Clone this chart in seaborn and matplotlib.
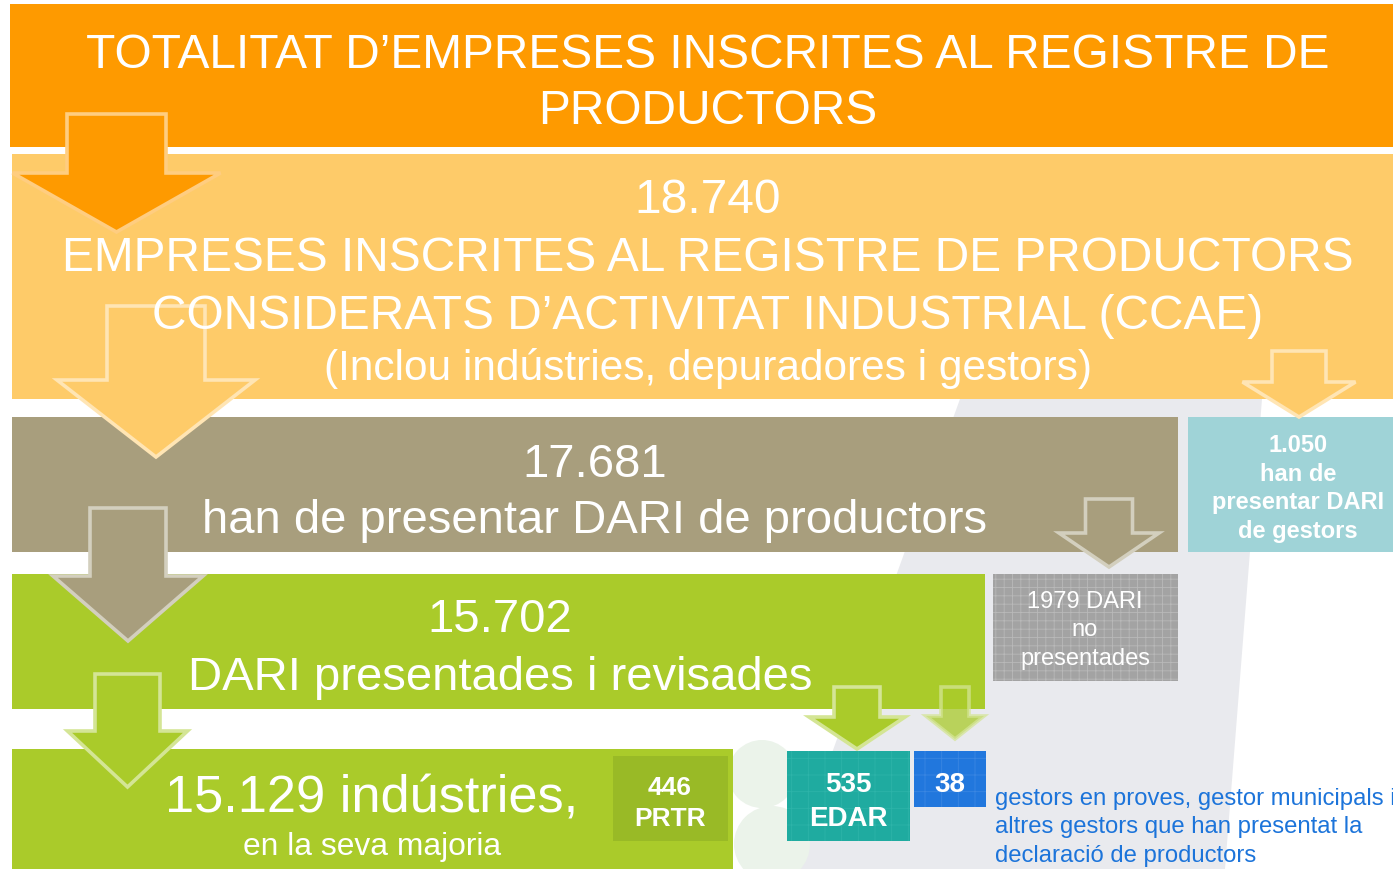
import numpy as np
import pandas as pd
import seaborn as sns
import matplotlib.pyplot as plt
from matplotlib.patches import Rectangle, Polygon, Circle
from matplotlib.colors import to_rgb

sns.set_theme(style="white")
plt.rcParams["font.family"] = ["Liberation Sans", "DejaVu Sans"]
plt.rcParams["hatch.linewidth"] = 0.6

# ---------------- data ----------------
total_ccae = 18740
dari_productors = 17681
dari_gestors = 1050
dari_revisades = 15702
dari_no_present = 1979
industries = 15129
prtr = 446
edar = 535
altres_gestors = 38


def cat(n):
    # separador de milers catala
    return f"{n:,}".replace(",", ".")


# ---------------- colours ----------------
c_orange = "#FE9A00"
c_lorange = "#FECB69"
c_taupe = "#A89E7D"
c_green = "#AACB2A"
c_dgreen = "#99BA26"
c_lblue = "#9FD3D7"
c_grey = "#A3A3A3"
c_teal = "#1FABA0"
c_blue = "#2177DD"
c_text_blue = "#1C74DA"

fig = plt.figure(figsize=(13.93, 8.70), dpi=100, facecolor="w")
ax = fig.add_axes([0, 0, 1, 1])
ax.set_xlim(0, 1393)
ax.set_ylim(870, 0)
ax.axis("off")

# faint watermark in the background
ax.add_patch(Polygon([(960, 400), (1262, 400), (1225, 870), (790, 870)],
                     closed=True, fc="#E9EAEE", ec="none", zorder=0))
ax.add_patch(Circle((762, 775), 34, fc="#EBF3EA", ec="none", zorder=0))
ax.add_patch(Circle((772, 845), 38, fc="#EBF3EA", ec="none", zorder=0))


def tint(c, f=0.6):
    r, g, b = to_rgb(c)
    return (r + (1 - r) * f, g + (1 - g) * f, b + (1 - b) * f)


def box(x0, y0, x1, y1, fc, hatch=None, hc=None, z=1):
    ax.add_patch(Rectangle((x0, y0), x1 - x0, y1 - y0, fc=fc, ec="none", zorder=z))
    if hatch:
        ax.add_patch(Rectangle((x0, y0), x1 - x0, y1 - y0, fc="none", ec=hc,
                               lw=0, hatch=hatch, zorder=z))


def arrow(cx, sw, hw, y0, yn, yt, fc, alpha=1.0):
    pts = [(cx - sw, y0), (cx + sw, y0), (cx + sw, yn), (cx + hw, yn),
           (cx, yt), (cx - hw, yn), (cx - sw, yn)]
    ax.add_patch(Polygon(pts, closed=True, fc=fc, ec=tint(fc, 0.5), lw=2.6,
                         alpha=alpha, joinstyle="miter", zorder=5))


def txt(x, y, s, size, bold=False, color="white", ha="center"):
    ax.text(x, y, s, fontsize=size, color=color, ha=ha, va="baseline",
            fontweight="bold" if bold else "normal", zorder=6)


# ---------------- boxes ----------------
box(10, 5, 1393, 148, c_orange)
box(12, 155, 1393, 400, c_lorange)
box(12, 418, 1178, 553, c_taupe)
box(1188, 418, 1393, 553, c_lblue)
box(12, 575, 985, 710, c_green)
box(993, 575, 1178, 682, c_grey, hatch="++", hc="#B9B9B9")
box(12, 750, 733, 870, c_green)
box(613, 757, 728, 842, c_dgreen, z=2)
box(787, 752, 910, 842, c_teal, hatch="+", hc="#2DB4A9")
box(914, 752, 986, 808, c_blue, hatch="+", hc="#3A86E2")

# ---------------- arrows ----------------
arrow(116.5, 49.5, 104, 115, 174, 233, c_orange)
arrow(156, 49, 99, 307, 381, 458, c_lorange)
arrow(1299, 27, 56.5, 352, 383, 418, c_lorange)
arrow(128, 38, 75, 509, 577, 642, c_taupe)
arrow(1109, 23.5, 50, 500, 534, 568, c_taupe)
arrow(127.5, 32.5, 60, 675, 732, 788, c_green)
arrow(857, 23, 48, 688, 718, 750, c_green)
arrow(955, 14, 29, 688, 717, 740, c_green, alpha=0.75)

# ---------------- texts ----------------
txt(708, 68, "TOTALITAT D’EMPRESES INSCRITES AL REGISTRE DE", 34.5)
txt(708, 124, "PRODUCTORS", 34.5)

txt(708, 213, cat(total_ccae), 34.5)
txt(708, 271, "EMPRESES INSCRITES AL REGISTRE DE PRODUCTORS", 34.5)
txt(708, 329, "CONSIDERATS D’ACTIVITAT INDUSTRIAL (CCAE)", 34.5)
txt(708, 380, "(Inclou indústries, depuradores i gestors)", 30.5)

txt(595, 477, cat(dari_productors), 34)
txt(595, 533, "han de presentar DARI de productors", 34)

for i, s in enumerate([cat(dari_gestors), "han de", "presentar DARI", "de gestors"]):
    txt(1298, 452 + 28.7 * i, s, 17, bold=True)

txt(500, 632, cat(dari_revisades), 34)
txt(500, 690, "DARI presentades i revisades", 34)

for i, s in enumerate([f"{dari_no_present} DARI", "no", "presentades"]):
    txt(1085, 608 + 28.5 * i, s, 17)

txt(372, 813, f"{cat(industries)} indústries,", 37.7)
txt(372, 855, "en la seva majoria", 22.9)

txt(670, 795, str(prtr), 19, bold=True)
txt(670, 826, "PRTR", 19, bold=True)
txt(848, 792, str(edar), 20, bold=True)
txt(848, 826, "EDAR", 20, bold=True)
txt(950, 792, str(altres_gestors), 20, bold=True)

for i, s in enumerate(["gestors en proves, gestor municipals i",
                       "altres gestors que han presentat la",
                       "declaració de productors"]):
    txt(995, 805 + 28.5 * i, s, 17.2, color=c_text_blue, ha="left")

fig.savefig("out.png", dpi=100, facecolor="w")
